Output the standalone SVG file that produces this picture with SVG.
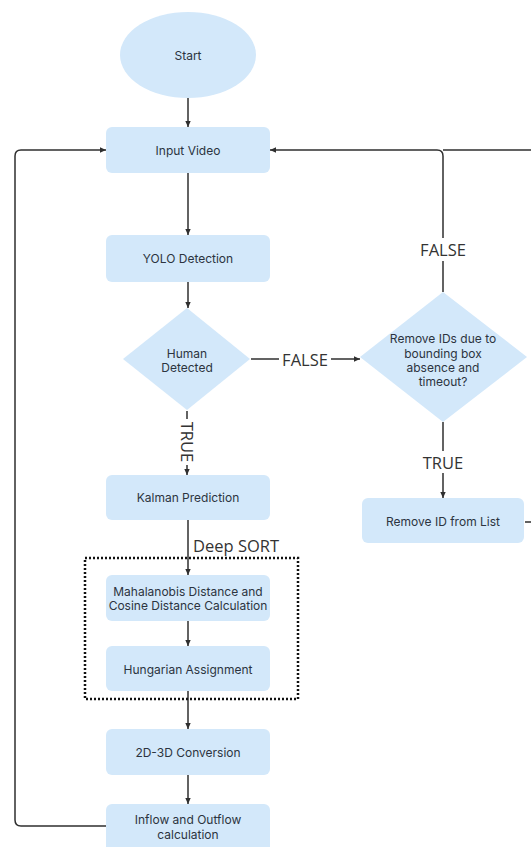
<svg xmlns="http://www.w3.org/2000/svg" width="531" height="847" viewBox="0 0 531 847">
<defs>
<style>
.node{fill:#d3e8fa;}
.t{font-family:Inter,"Noto Sans","Liberation Sans",sans-serif;font-size:12px;fill:#2c3440;text-anchor:middle;dominant-baseline:central;}
.lbl{font-family:"Open Sans","Noto Sans","Liberation Sans",sans-serif;font-size:16.5px;fill:#333;text-anchor:middle;dominant-baseline:central;}
.c{fill:none;stroke:#2f2f2f;stroke-width:1.5;}
.a{marker-end:url(#arr);}
</style>
<marker id="arr" markerUnits="userSpaceOnUse" markerWidth="7" markerHeight="7" refX="6" refY="3.5" orient="auto">
<path d="M0 0.8 L6 3.5 L0 6.2 z" fill="#2f2f2f"/>
</marker>
</defs>
<rect width="531" height="847" fill="#ffffff"/>

<g id="connectors">
<path class="c a" d="M188 98 V127"/>
<path class="c a" d="M188 173 V235"/>
<path class="c a" d="M188 282 V308"/>
<path class="c" d="M251 359 H279"/>
<path class="c a" d="M331 359 H360"/>
<path class="c" d="M187 411 V419"/>
<path class="c a" d="M187 465 V475"/>
<path class="c" d="M443 292 V261"/>
<path class="c a" d="M443 238 V156 Q443 150 437 150 H270"/>
<path class="c" d="M443 422 V451"/>
<path class="c a" d="M443 473 V498"/>
<path class="c" d="M525 522 H550 V150 H443"/>
<path class="c a" d="M188 520 V575"/>
<path class="c a" d="M188 621 V646"/>
<path class="c a" d="M188 691 V729"/>
<path class="c a" d="M188 775 V804"/>
<path class="c a" d="M106 826 H21 Q15 826 15 820 V156 Q15 150 21 150 H106"/>
<text class="lbl" x="305" y="359">FALSE</text>
<text class="lbl" x="443" y="249">FALSE</text>
<text class="lbl" x="443" y="462">TRUE</text>
<text class="lbl" transform="translate(187 442) rotate(90)" x="0" y="0">TRUE</text>
<text class="lbl" x="193" y="545" style="text-anchor:start">Deep SORT</text>
</g>

<g id="deepsort-group">
<rect x="85" y="558" width="213" height="141" fill="none" stroke="#111" stroke-width="2.5" stroke-dasharray="2 2"/>
</g>

<g id="start">
<ellipse class="node" cx="188" cy="55" rx="68" ry="43"/>
<text class="t" x="188" y="55">Start</text>
</g>
<g id="input-video">
<rect class="node" x="106" y="127" width="164" height="46" rx="6"/>
<text class="t" x="188" y="150">Input Video</text>
</g>
<g id="yolo">
<rect class="node" x="106" y="235" width="164" height="47" rx="6"/>
<text class="t" x="188" y="258">YOLO Detection</text>
</g>
<g id="human-detected">
<path class="node" d="M187 308 L250 359 L187 410 L123 359 Z"/>
<text class="t" x="187" y="353">Human</text>
<text class="t" x="187" y="367">Detected</text>
</g>
<g id="remove-ids">
<path class="node" d="M443 292 L527 357 L443 422 L360 357 Z"/>
<text class="t" x="443" y="338">Remove IDs due to</text>
<text class="t" x="443" y="353">bounding box</text>
<text class="t" x="443" y="367">absence and</text>
<text class="t" x="443" y="381">timeout?</text>
</g>
<g id="remove-id-list">
<rect class="node" x="362" y="498" width="162" height="45" rx="6"/>
<text class="t" x="443" y="521">Remove ID from List</text>
</g>
<g id="kalman">
<rect class="node" x="106" y="475" width="164" height="45" rx="6"/>
<text class="t" x="188" y="497">Kalman Prediction</text>
</g>
<g id="mahalanobis">
<rect class="node" x="106" y="575" width="164" height="46" rx="6"/>
<text class="t" x="188" y="591">Mahalanobis Distance and</text>
<text class="t" x="188" y="605">Cosine Distance Calculation</text>
</g>
<g id="hungarian">
<rect class="node" x="106" y="646" width="164" height="45" rx="6"/>
<text class="t" x="188" y="669">Hungarian Assignment</text>
</g>
<g id="conversion">
<rect class="node" x="106" y="729" width="164" height="46" rx="6"/>
<text class="t" x="188" y="752">2D-3D Conversion</text>
</g>
<g id="inflow">
<rect class="node" x="106" y="804" width="164" height="48" rx="6"/>
<text class="t" x="188" y="819">Inflow and Outflow</text>
<text class="t" x="188" y="834">calculation</text>
</g>
</svg>
